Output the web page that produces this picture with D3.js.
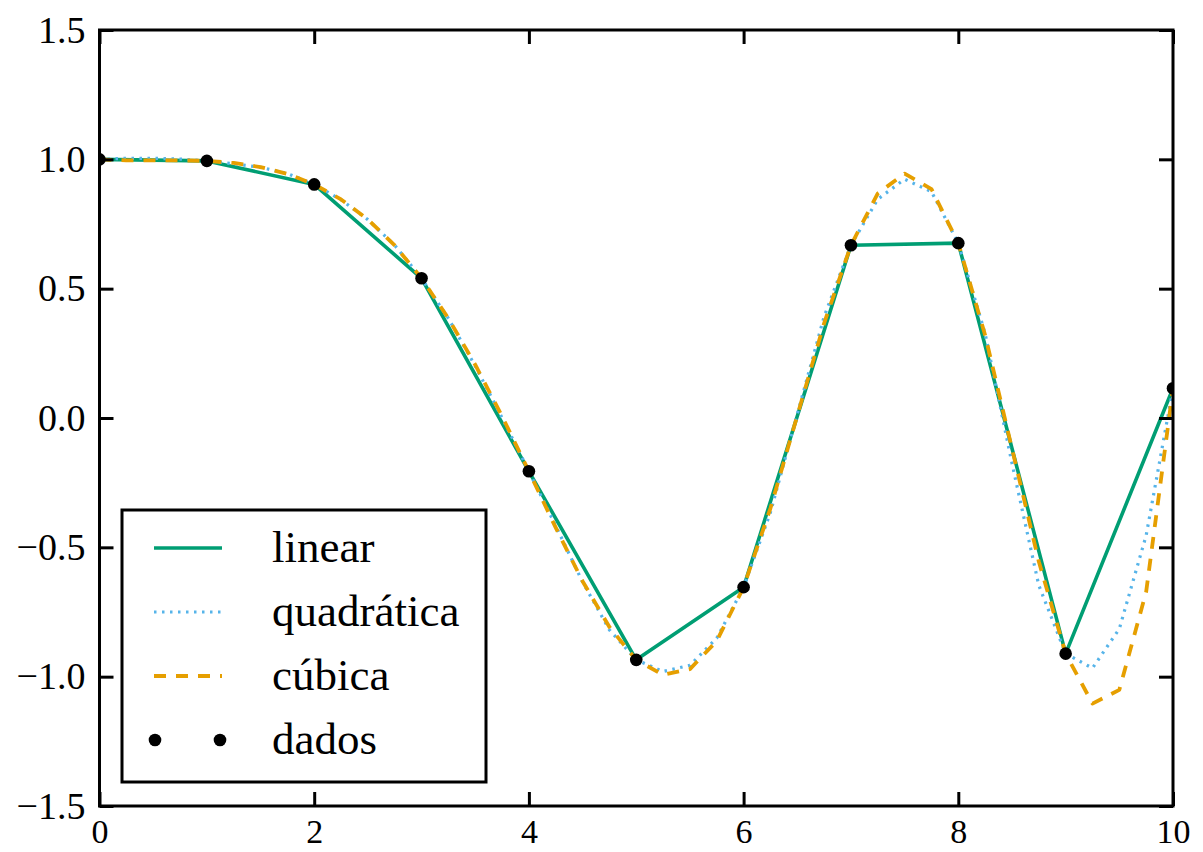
<!DOCTYPE html>
<html>
<head>
<meta charset="utf-8">
<script src="https://cdn.jsdelivr.net/npm/d3@7"></script>
<style>
  body { margin: 0; background: #fff; }
  text { font-family: "Liberation Serif", "DejaVu Serif", serif; fill: #000; }
</style>
</head>
<body>
<svg id="canvas"></svg>
<script>
// data points
let xData = [0, 1, 2, 3, 4, 5, 6, 7, 8, 9, 10];
let yData = [1.0, 0.994, 0.903, 0.540, -0.206, -0.935, -0.654, 0.668, 0.676, -0.911, 0.115];

// fine grid for the smooth curves
let xNew = [0, 0.25, 0.5, 0.75, 1, 1.25, 1.5, 1.75, 2, 2.25, 2.5, 2.75, 3, 3.25, 3.5, 3.75,
  4, 4.25, 4.5, 4.75, 5, 5.25, 5.5, 5.75, 6, 6.25, 6.5, 6.75, 7, 7.25, 7.5, 7.75,
  8, 8.25, 8.5, 8.75, 9, 9.25, 9.5, 9.75, 10];

let yQuad = [1.0, 1.004, 1.004, 1.001, 0.994, 0.983, 0.969, 0.945, 0.903, 0.844, 0.767, 0.668,
  0.540, 0.385, 0.201, 0.001, -0.206, -0.417, -0.634, -0.819, -0.935, -0.980, -0.956, -0.851,
  -0.654, -0.365, 0.015, 0.392, 0.668, 0.846, 0.923, 0.875, 0.676, 0.326, -0.175, -0.647,
  -0.911, -0.967, -0.815, -0.454, 0.115];

let yCubic = [1.0, 0.996, 0.996, 0.996, 0.994, 0.986, 0.970, 0.944, 0.903, 0.845, 0.768, 0.667,
  0.540, 0.385, 0.206, 0.007, -0.206, -0.424, -0.631, -0.808, -0.935, -0.993, -0.971, -0.862,
  -0.654, -0.349, 0.009, 0.366, 0.668, 0.868, 0.945, 0.885, 0.676, 0.320, -0.118, -0.555,
  -0.911, -1.104, -1.051, -0.672, 0.115];

let xTicks = [0, 2, 4, 6, 8, 10];
let yTicks = [-1.5, -1.0, -0.5, 0.0, 0.5, 1.0, 1.5];
let legendLabels = ["linear", "quadrática", "cúbica", "dados"];

let width = 1203,
  height = 852;
let plotLeft = 99.5,
  plotRight = 1173,
  plotTop = 30,
  plotBottom = 806;

let canvas = d3.select("#canvas").attr("width", width).attr("height", height);

let xScale = d3.scaleLinear().domain([0, 10]).range([plotLeft, plotRight]);
let yScale = d3.scaleLinear().domain([-1.5, 1.5]).range([plotBottom, plotTop]);

canvas.append("defs").append("clipPath").attr("id", "plot-clip")
  .append("rect")
  .attr("x", plotLeft).attr("y", plotTop)
  .attr("width", plotRight - plotLeft).attr("height", plotBottom - plotTop);

let plot = canvas.append("g").attr("clip-path", "url(#plot-clip)");

let line = d3.line().x((d) => xScale(d[0])).y((d) => yScale(d[1]));

let series = [
  { pts: d3.zip(xData, yData), color: "#009E73", width: 3.6, dash: null },
  { pts: d3.zip(xNew, yQuad), color: "#56B4E9", width: 3.2, dash: "2.5,5.5" },
  { pts: d3.zip(xNew, yCubic), color: "#E69F00", width: 3.8, dash: "12,10" },
];

series.forEach((s) => {
  plot.append("path")
    .datum(s.pts)
    .attr("d", line)
    .attr("fill", "none")
    .attr("stroke", s.color)
    .attr("stroke-width", s.width)
    .attr("stroke-dasharray", s.dash)
    .attr("stroke-linejoin", "round");
});

plot.selectAll("circle")
  .data(d3.zip(xData, yData))
  .enter()
  .append("circle")
  .attr("cx", (d) => xScale(d[0]))
  .attr("cy", (d) => yScale(d[1]))
  .attr("r", 6.3)
  .attr("fill", "#000");

// axes: ticks pointing inward on all four sides
let tickLen = 14;
let styleAxis = (size) => (g) => {
  g.select(".domain").remove();
  g.selectAll(".tick line").attr("stroke", "#000").attr("stroke-width", 3);
  g.selectAll(".tick text").style("font-size", size).style("font-family", '"Liberation Serif", serif');
};

canvas.append("g")
  .attr("transform", "translate(0," + plotBottom + ")")
  .call(d3.axisBottom(xScale).tickValues(xTicks).tickFormat(d3.format("d"))
    .tickSizeInner(-tickLen).tickSizeOuter(0).tickPadding(13))
  .call(styleAxis("34px"));

canvas.append("g")
  .attr("transform", "translate(0," + plotTop + ")")
  .call(d3.axisTop(xScale).tickValues(xTicks).tickFormat("")
    .tickSizeInner(-tickLen).tickSizeOuter(0))
  .call(styleAxis("34px"));

canvas.append("g")
  .attr("transform", "translate(" + plotLeft + ",0)")
  .call(d3.axisLeft(yScale).tickValues(yTicks).tickFormat(d3.format(".1f"))
    .tickSizeInner(-tickLen).tickSizeOuter(0).tickPadding(14))
  .call(styleAxis("38px"));

canvas.append("g")
  .attr("transform", "translate(" + plotRight + ",0)")
  .call(d3.axisRight(yScale).tickValues(yTicks).tickFormat("")
    .tickSizeInner(-tickLen).tickSizeOuter(0))
  .call(styleAxis("34px"));

canvas.append("rect")
  .attr("x", plotLeft).attr("y", plotTop)
  .attr("width", plotRight - plotLeft).attr("height", plotBottom - plotTop)
  .attr("fill", "none")
  .attr("stroke", "#000")
  .attr("stroke-width", 3);

// legend
let legend = canvas.append("g").attr("transform", "translate(122,510)");
legend.append("rect")
  .attr("width", 364).attr("height", 272)
  .attr("fill", "#fff")
  .attr("stroke", "#000")
  .attr("stroke-width", 3);

let rowY = (i) => 38 + i * 64;

series.forEach((s, i) => {
  legend.append("line")
    .attr("x1", 32).attr("x2", 100)
    .attr("y1", rowY(i)).attr("y2", rowY(i))
    .attr("stroke", s.color)
    .attr("stroke-width", s.width)
    .attr("stroke-dasharray", s.dash);
});

legend.selectAll("circle")
  .data([33, 98])
  .enter()
  .append("circle")
  .attr("cx", (d) => d)
  .attr("cy", rowY(3))
  .attr("r", 6.3)
  .attr("fill", "#000");

legend.selectAll("text")
  .data(legendLabels)
  .enter()
  .append("text")
  .attr("x", 150)
  .attr("y", (d, i) => rowY(i))
  .attr("dy", "0.32em")
  .style("font-size", "45px")
  .text((d) => d);
</script>
</body>
</html>
